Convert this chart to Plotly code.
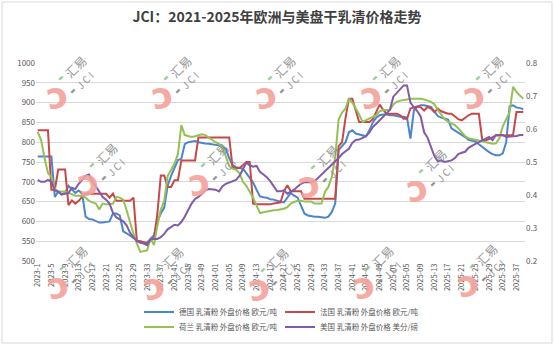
import plotly.graph_objects as go

# ---------------- data ----------------
weeks_2023 = [f"2023-{w}" for w in range(1, 53)]
weeks_2024 = [f"2024-{w:02d}" for w in range(1, 53)]
weeks_2025 = [f"2025-{w:02d}" for w in range(1, 40)]
categories = weeks_2023 + weeks_2024 + weeks_2025
tick_labels = categories[::4]

germany = [
    764, 764, 764, 764, 764, 662, 675, 668, 672, 690,
    680, 672, 678, 670, 612, 606, 605, 600, 597, 597,
    598, 600, 620, 620, 615, 575, 570, 565, 558, 552,
    548, 546, 547, 555, 565, 600, 620, 635, 690, 715,
    735, 755, 758, 795, 800, 802, 803, 800, 798, 797,
    796, 795, 794, 792, 788, 783, 760, 742, 737, 735,
    733, 722, 710, 698, 680, 663, 661, 660, 656, 655,
    652, 650, 648, 660, 672, 665, 660, 640, 620, 615,
    613, 612, 612, 610, 609, 612, 624, 645, 780, 790,
    800, 825, 830, 822, 820, 818, 815, 830, 850, 862,
    868, 870, 870, 868, 868, 866, 864, 864, 862, 809,
    880, 890, 893, 893, 890, 889, 878, 866, 862, 860,
    857, 835, 830, 825, 818, 813, 806, 804, 802, 795,
    788, 780, 775, 770, 767, 767, 772, 800, 890, 893,
    888, 886, 884,
]

france = [
    830, 830, 830, 830, 680, 680, 731, 731, 731, 641,
    653, 645, 652, 662, 670, 670, 670, 670, 670, 670,
    670, 660, 670, 652, 652, 652, 652, 652, 660, 550,
    550, 548, 545, 552, 557, 620, 716, 716, 687, 687,
    704, 704, 754, 754, 754, 754, 754, 812, 812, 812,
    812, 812, 812, 812, 812, 812, 812, 735, 735, 735,
    742, 750, 750, 645, 643, 643, 643, 643, 643, 645,
    646, 648, 676, 691, 676, 676, 676, 676, 657, 657,
    657, 657, 657, 657, 657, 657, 657, 657, 790, 800,
    860, 910, 910, 880, 851, 851, 851, 851, 858, 876,
    895, 882, 872, 872, 872, 872, 868, 859, 859, 885,
    888, 890, 888, 880, 889, 885, 876, 885, 878, 874,
    872, 872, 864, 858, 855, 862, 868, 872, 872, 872,
    805, 805, 808, 813, 817, 817, 817, 817, 817, 818,
    876, 876, 876,
]

netherlands = [
    826, 805, 760, 722, 712, 682, 676, 675, 675, 672,
    668, 665, 665, 664, 660, 652, 648, 645, 630, 645,
    643, 643, 645, 662, 660, 655, 628, 595, 569, 544,
    523, 525, 527, 557, 540, 590, 630, 652, 715, 730,
    746, 770, 843, 818, 815, 813, 815, 818, 820, 818,
    812, 805, 800, 796, 785, 765, 740, 733, 730, 722,
    700, 690, 675, 660, 640, 621, 623, 625, 627, 628,
    629, 630, 632, 636, 645, 649, 652, 652, 650, 650,
    650, 645, 645, 645, 675, 687, 712, 762, 858, 875,
    885, 910, 900, 885, 870, 851, 855, 859, 864, 868,
    878, 881, 881, 881, 895, 902, 905, 906, 908, 910,
    910, 910, 910, 908, 905, 902, 896, 881, 870, 858,
    852, 848, 843, 835, 825, 815, 810, 808, 806, 803,
    801, 800, 798, 796, 797, 810, 840, 860, 876, 940,
    927, 918, 910,
]

usa = [
    0.446, 0.440, 0.440, 0.446, 0.440, 0.414, 0.410, 0.402, 0.404, 0.406,
    0.422, 0.418, 0.434, 0.446, 0.458, 0.462, 0.440, 0.426, 0.410, 0.394,
    0.386, 0.374, 0.346, 0.332, 0.326, 0.320, 0.308, 0.286, 0.272, 0.260,
    0.255, 0.253, 0.248, 0.266, 0.267, 0.267, 0.272, 0.282, 0.296, 0.303,
    0.310, 0.308, 0.318, 0.334, 0.354, 0.374, 0.388, 0.394, 0.404, 0.414,
    0.418, 0.418, 0.416, 0.411, 0.426, 0.434, 0.438, 0.440, 0.446, 0.458,
    0.476, 0.498, 0.490, 0.486, 0.488, 0.470, 0.462, 0.454, 0.442, 0.428,
    0.411, 0.411, 0.414, 0.404, 0.410, 0.416, 0.426, 0.434, 0.439, 0.439,
    0.439, 0.442, 0.452, 0.460, 0.469, 0.480, 0.490, 0.502, 0.512, 0.524,
    0.532, 0.540, 0.558, 0.567, 0.568, 0.572, 0.578, 0.590, 0.606, 0.616,
    0.627, 0.637, 0.646, 0.658, 0.698, 0.710, 0.722, 0.732, 0.732, 0.680,
    0.666, 0.654, 0.638, 0.590, 0.574, 0.548, 0.518, 0.502, 0.505, 0.500,
    0.502, 0.505, 0.512, 0.524, 0.528, 0.531, 0.543, 0.550, 0.555, 0.560,
    0.566, 0.572, 0.576, 0.566, 0.582, 0.582, 0.582, 0.576, 0.578, 0.578,
    0.579, 0.582, 0.582,
]

series_names = [
    "德国 乳清粉 外盘价格 欧元/吨",
    "法国 乳清粉 外盘价格 欧元/吨",
    "荷兰 乳清粉 外盘价格 欧元/吨",
    "美国 乳清粉 外盘价格 美分/磅",
]
colors = ["#4A86CC", "#C8484A", "#94C153", "#7F5BAA"]

title_text = "JCI：2021-2025年欧洲与美盘干乳清价格走势"

# ---------------- figure ----------------
W, H = 554, 345
ML, MR, MT, MB = 36, 29, 63, 84
PW, PH = W - ML - MR, H - MT - MB

fig = go.Figure()

# watermark units (pixel centres of the hook mark)
wm_units = [
    (56, 95), (161, 95), (265, 95), (370, 95), (473, 95),
    (87, 182), (198, 182), (308, 184), (416, 188),
    (57, 285), (153, 286), (258, 287), (363, 285), (467, 283),
]


def px(x, y):
    return (x - ML) / PW, (MT + PH - y) / PH


annotations = []
for cx, cy in wm_units:
    items = [
        ("<b>ɔ</b>", cx, cy - 3, 36, "#F4A29A", -10),
        ("▬", cx + 4, cy - 18, 6, "#8CCB8C", -45),
        ("汇易", cx + 19, cy - 29, 12, "#8A8A8A", -45),
        ("▬", cx + 16, cy - 5, 6, "#8A8A8A", -45),
        ("J C I", cx + 28, cy - 15, 10, "#8A8A8A", -45),
    ]
    for txt, x, y, size, col, ang in items:
        ax, ay = px(x, y)
        annotations.append(dict(
            text=txt, x=ax, y=ay, xref="paper", yref="paper",
            showarrow=False, textangle=ang, opacity=0.9,
            font=dict(size=size, color=col,
                      family="Noto Sans CJK SC, DejaVu Sans"),
            xanchor="center", yanchor="middle",
        ))

legend_ids = ["legend", "legend", "legend2", "legend2"]
for name, vals, col, axis, lg in zip(series_names,
                                     [germany, france, netherlands, usa],
                                     colors, ["y", "y", "y", "y2"],
                                     legend_ids):
    fig.add_trace(go.Scatter(
        x=categories, y=vals, name=name, mode="lines",
        line=dict(color=col, width=2), yaxis=axis, legend=lg,
    ))

# outer frame
bx0, by0 = px(2, 2)
bx1, by1 = px(552, 343)

lx, _ = px(280, 0)
legend_common = dict(
    orientation="h", x=lx, xanchor="center", yanchor="middle",
    font=dict(size=7.5, color="#595959"),
    entrywidth=96, entrywidthmode="pixels", itemwidth=30,
    bgcolor="rgba(0,0,0,0)", traceorder="normal",
)

fig.update_layout(
    width=W, height=H,
    margin=dict(l=ML, r=MR, t=MT, b=MB, pad=0, autoexpand=False),
    paper_bgcolor="white", plot_bgcolor="white",
    font=dict(family="Noto Sans CJK SC, Microsoft YaHei, sans-serif",
              color="#595959", size=8),
    title=dict(text="<b>" + title_text + "</b>", x=0.5, xanchor="center",
               y=1 - 17 / H, yanchor="middle",
               font=dict(size=14, color="#404040",
                         family="Noto Sans CJK SC")),
    xaxis=dict(
        type="category", range=[-0.5, len(categories) - 0.5],
        tickmode="array", tickvals=tick_labels, ticktext=tick_labels,
        tickangle=-90, showgrid=False, showline=False, zeroline=False,
        ticks="", tickfont=dict(size=7.5, color="#595959"),
        automargin=False,
    ),
    yaxis=dict(
        range=[500, 1000], dtick=50, tick0=500, showgrid=True,
        gridcolor="#D9D9D9", gridwidth=1, zeroline=False, showline=False,
        ticks="", tickfont=dict(size=8, color="#595959"), automargin=False,
    ),
    yaxis2=dict(
        range=[0.2, 0.8], dtick=0.1, tick0=0.2, tickformat=".1f",
        overlaying="y", side="right", showgrid=False, zeroline=False,
        showline=False, ticks="", tickfont=dict(size=8, color="#595959"),
        automargin=False,
    ),
    legend=dict(y=px(0, 312)[1], **legend_common),
    legend2=dict(y=px(0, 327)[1], **legend_common),
    annotations=annotations,
    shapes=[dict(type="rect", xref="paper", yref="paper",
                 x0=bx0, y0=by0, x1=bx1, y1=by1,
                 line=dict(color="#D9D9D9", width=1), layer="below")],
    showlegend=True,
)

fig.write_html("out.html")
